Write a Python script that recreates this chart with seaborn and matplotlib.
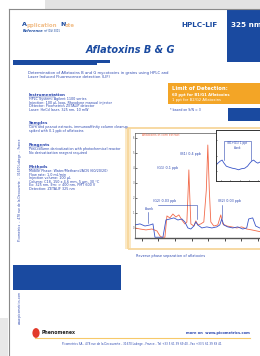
import numpy as np
import pandas as pd
import matplotlib
matplotlib.use("Agg")
import matplotlib.pyplot as plt
import seaborn as sns
from matplotlib.patches import Rectangle, Circle
from matplotlib.lines import Line2D

W, H = 260, 356

# Chromatogram traces (time in min, signal in mV)
red_time = [-0.40, -0.10, 0.26, 0.62, 0.92, 1.10, 1.22, 1.40, 1.52, 1.70, 1.88, 2.06,
            2.24, 2.42, 2.60, 2.72, 2.81, 2.84, 2.87, 2.96, 3.14, 3.26, 3.38, 3.56,
            3.74, 3.89, 3.98, 4.07, 4.16, 4.34, 4.58, 4.76, 4.88, 5.12, 5.42, 5.72,
            6.02, 6.32, 6.62, 6.92, 7.22]
red_signal = [0.00, -0.07, -0.13, -0.07, -0.20, -0.53, -0.62, -0.62, 0.80, 0.67, 0.93, 0.73,
              0.87, 0.53, 0.27, 0.40, 2.87, 3.87, 2.87, 0.27, 0.13, 0.47, 0.20, 0.27,
              0.40, 2.53, 5.53, 2.53, 0.40, 0.13, 0.20, 0.87, 0.27, 0.13, 0.07, 0.00,
              0.07, -0.07, -0.13, -0.20, -0.27]

blue_time = [-0.40, -0.10, 0.20, 0.50, 0.68, 0.80, 1.28, 1.46, 1.70, 1.94, 2.18, 2.42,
             2.60, 2.78, 2.96, 3.14, 3.26, 3.38, 3.62, 3.92, 4.22, 4.52, 4.70, 4.82,
             4.94, 5.18, 5.48, 5.78, 6.08, 6.32, 6.44, 6.68, 6.86, 7.10]
blue_signal = [0.20, 0.27, 0.13, 0.20, 0.27, -0.62, -0.62, 0.53, 0.60, 0.67, 0.53, 0.60,
               0.40, 0.00, -0.07, 0.13, 0.40, 0.20, 0.00, 0.07, 0.00, 0.07, 0.20, 0.60,
               0.20, 0.07, 0.00, 0.07, -0.07, 0.00, 0.60, 0.67, 0.13, 0.00]

# zoomed blank trace in the inset
inset_x = [0.00, 0.04, 0.09, 0.13, 0.17, 0.22, 0.28, 0.35, 0.41, 0.48, 0.54, 0.61,
           0.67, 0.72, 0.76, 0.80, 0.85, 0.89, 0.93, 1.00]
inset_y = [0.31, 0.35, 0.39, 0.41, 0.35, 0.29, 0.27, 0.25, 0.24, 0.22, 0.24, 0.25,
           0.29, 0.35, 0.39, 0.41, 0.37, 0.35, 0.37, 0.35]

y_ticks = [0, 1, 2, 3, 4, 5, 6]
y_tick_labels = ["0", "1", "2", "3", "4", "5", "6"]
x_ticks = [0, 1, 2, 3, 4, 5, 6, 7]

BLUE = "#1a4aa0"
TXT = "#2b47b0"
ORANGE = "#f3a526"
PEACH = "#f7d79c"


def fx(x):
    return x / W


def fy(y):
    return 1 - y / H


fig = plt.figure(figsize=(2.6, 3.56), dpi=100)
fig.patch.set_facecolor("white")


def box(x0, y0, x1, y1, **kw):
    fig.add_artist(Rectangle((fx(x0), fy(y1)), (x1 - x0) / W, (y1 - y0) / H,
                             transform=fig.transFigure, **kw))


def line(xs, ys, **kw):
    fig.add_artist(Line2D([fx(v) for v in xs], [fy(v) for v in ys],
                          transform=fig.transFigure, **kw))


def txt(x, y, s, size=2.6, color=TXT, **kw):
    kw.setdefault("va", "center")
    fig.text(fx(x), fy(y), s, fontsize=size, color=color, **kw)


# page background / shadow
box(45, 0, 260, 8.5, color="#e3e3e3", lw=0)
box(0, 318, 8, 356, color="#e8e8e8", lw=0)
line([9, 9], [9, 356], color="#8a8a8a", lw=0.8)
line([9, 260], [9, 9], color="#8a8a8a", lw=0.8)

# header logo: blue capitals, pale lower-case letters
txt(22, 25, "A", size=4.6, color=BLUE, weight="bold")
txt(26.2, 25.5, "pplication", size=3.9, color="#f2bf8a", weight="bold")
txt(60, 25, "N", size=4.6, color=BLUE, weight="bold")
txt(64.8, 25.5, "ote", size=3.9, color="#f2bf8a", weight="bold")
txt(23, 31, "Reference", size=2.6, color=BLUE, weight="bold", style="italic")
txt(44, 31, "ref ID# 3001", size=1.8, color=BLUE)
txt(199, 25, "HPLC-LIF", size=5.2, color=BLUE, weight="bold", ha="center")
box(227, 9, 262, 62, color=BLUE, lw=0)
txt(231, 25, "325 nm", size=5.2, color="white", weight="bold")
txt(130, 50, "Aflatoxins B & G", size=7, color=BLUE, weight="bold",
    style="italic", ha="center")
box(13, 59.5, 110, 62.5, color=BLUE, lw=0)
box(13, 63.2, 97, 64.6, color=BLUE, lw=0)

# left column text
txt(28, 73, "Determination of Aflatoxins B and G mycotoxins in grains using HPLC and",
    size=2.7)
txt(28, 76.5, "Laser Induced Fluorescence detection (LIF)", size=2.7)
sections = [
    (95, "Instrumentation", ["HPLC System: Agilent 1100 series",
                              "Injection: 100 µL loop, Rheodyne manual injector",
                              "Detector: Picometrics ZETALIF detector",
                              "Laser: HeCd laser, 325 nm, 10 mW"]),
    (123, "Samples", ["Corn and peanut extracts, immunoaffinity column cleanup",
                      "spiked with 0.1 ppb of aflatoxins"]),
    (145, "Reagents", ["Post-column derivatization with photochemical reactor",
                       "No derivatization reagent required"]),
    (167, "Methods", ["Mobile Phase: Water/Methanol/ACN (60/20/20)",
                      "Flow rate: 1.0 mL/min",
                      "Injection volume: 100 µL",
                      "Column: C18, 150 x 4.6 mm, 5 µm, 30 °C",
                      "Ex: 325 nm, Em: > 400 nm, PMT 600 V",
                      "Detection: ZETALIF 325 nm"]),
]
for y0, head, rows in sections:
    txt(29, y0, head, size=2.9, weight="bold")
    line([29, 29 + len(head) * 1.75], [y0 + 1.8, y0 + 1.8], color=TXT, lw=0.3)
    for i, r in enumerate(rows):
        txt(29, y0 + 4 + i * 3.6, r, size=2.4)

txt(20, 190, "Picometrics  -  478 rue de la Decouverte  -  31670 Labege  -  France",
    size=2.2, rotation=90, ha="center")
txt(20, 307, "www.picometrics.com", size=2.2, rotation=90, ha="center")
box(13, 265, 121, 290, color=BLUE, lw=0)

# limit of detection box
box(168, 83, 262, 103.5, color=ORANGE, lw=0)
txt(172, 88.5, "Limit of Detection:", size=3.8, color="white", weight="bold")
txt(172, 95, "60 ppt for B1/G1 Aflatoxins", size=2.7, color="white", weight="bold")
txt(172, 100, "1 ppt for B2/G2 Aflatoxins", size=2.7, color="white")
txt(170, 109.5, "* based on S/N = 3", size=2.3)
box(228, 108, 262, 121, color=BLUE, lw=0)

# chromatogram panel
box(125, 128, 131, 249, color="#fbe8c4", lw=0)
box(128, 127.5, 263, 249, fill=False, ec=PEACH, lw=1.3)

ax = fig.add_axes([fx(135), fy(238), (263 - 135) / W, (238 - 133) / H])
df = pd.DataFrame({
    "time": red_time + blue_time,
    "signal": red_signal + blue_signal,
    "trace": ["sample"] * len(red_time) + ["blank"] * len(blue_time),
})
sns.lineplot(data=df, x="time", y="signal", hue="trace",
             palette={"sample": "#f26a4a", "blank": "#3a55c8"},
             estimator=None, sort=False, legend=False, linewidth=0.6, ax=ax)
ax.set_xlim(-0.4, 7.3)
ax.set_ylim(-0.67, 6.33)
ax.set_xticks(x_ticks)
ax.set_xticklabels([])
ax.set_yticks(y_ticks)
ax.set_yticklabels(y_tick_labels)
ax.tick_params(axis="y", labelsize=1.8, length=1.2, width=0.4, pad=0.5,
               direction="in", labelcolor="#555555")
ax.tick_params(axis="x", length=2, width=0.5, direction="out")
ax.set_xlabel("")
ax.set_ylabel("")
for s in ax.spines.values():
    s.set_color("#555555")
    s.set_linewidth(0.5)
ax.spines["bottom"].set_linewidth(1.0)
ax.text(0.0, 6.1, "Aflatoxins in corn extract", fontsize=2.2, color="#f26a4a")

ann = dict(fontsize=2.4, color=TXT)
ax.text(0.9, 3.93, "(G1) 0.1 ppb", **ann)
ax.text(2.3, 4.85, "(B1) 0.4 ppb", **ann)
ax.text(0.7, 1.75, "(G2) 0.03 ppb", **ann)
ax.plot([1.0, 3.32, 3.32], [1.55, 1.55, 0.6], color=TXT, lw=0.4)
ax.text(4.6, 1.75, "(B2) 0.03 ppb", **ann)
ax.plot([4.82, 4.82], [1.55, 0.65], color=TXT, lw=0.4)
ax.text(0.2, 1.2, "blank", **ann)
ax.plot([0.38, 0.38], [1.05, 0.3], color=TXT, lw=0.4)

# inset with zoom on the blank
axi = fig.add_axes([fx(216), fy(181), (263 - 216) / W, (181 - 130) / H])
sns.lineplot(x=inset_x, y=inset_y, color="#3a55c8", linewidth=0.6,
             estimator=None, sort=False, ax=axi)
axi.set_xlim(0, 1)
axi.set_ylim(0, 1)
axi.set_xticks([0.1, 0.3, 0.5, 0.7, 0.9])
axi.set_yticks([0.2, 0.5, 0.8])
axi.set_xticklabels([])
axi.set_yticklabels([])
axi.tick_params(length=1, width=0.4, direction="in")
for s in axi.spines.values():
    s.set_color("#333333")
    s.set_linewidth(0.7)
axi.plot([0.17, 0.17, 0.74, 0.74], [0.41, 0.78, 0.78, 0.41], color=TXT, lw=0.4)
axi.text(0.45, 0.72, "(B1+G1) 1 ppt", fontsize=2.0, color=TXT, ha="center")
axi.text(0.45, 0.63, "blank", fontsize=2.0, color=TXT, ha="center")

txt(136, 256, "Reverse phase separation of aflatoxins", size=2.5)

# footer
fig.add_artist(Circle((fx(36), fy(333)), 3.6 / W, transform=fig.transFigure,
                      color="#e23a2a", lw=0))
txt(42, 333, "Phenomenex", size=3.3, color="#222222", weight="bold")
txt(250, 333, "more on  www.picometrics.com", size=2.6, ha="right", weight="bold")
line([35, 250], [338, 338], color="#f7c96a", lw=0.8)
txt(142, 344, "Picometrics SA - 478 rue de la Decouverte - 31670 Labege - France - "
    "Tel +33 5 61 39 69 40 - Fax +33 5 61 39 69 41", size=2.0, ha="center")

fig.savefig("out.png", dpi=100)
